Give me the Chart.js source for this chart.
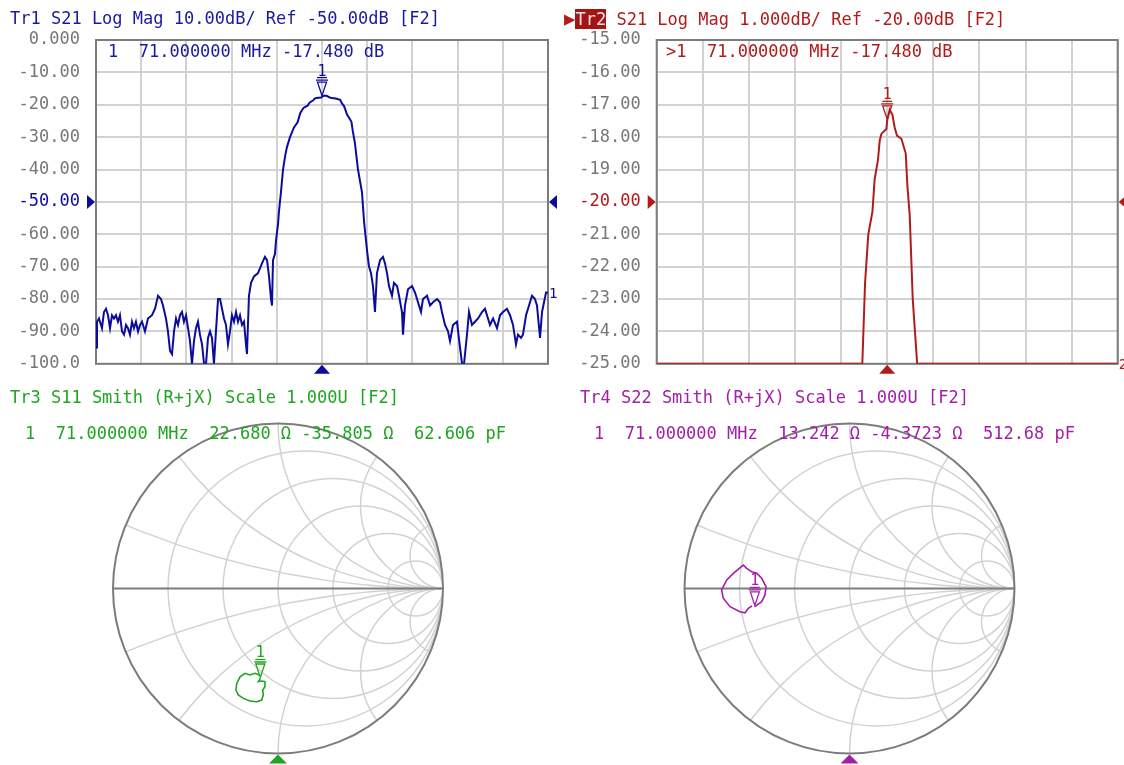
<!DOCTYPE html>
<html>
<head>
<meta charset="utf-8">
<script src="https://cdn.jsdelivr.net/npm/chart.js@4.4.0/dist/chart.umd.min.js"></script>
<style>
  body { margin: 0; background: #fff; width: 1124px; height: 765px; overflow: hidden; position: relative; font-family: "DejaVu Sans Mono", monospace; }
  canvas { position: absolute; }
  .txt { position: absolute; font-size: 17px; line-height: 20px; white-space: pre; }
</style>
</head>
<body>
<canvas id="tr1" width="560" height="390" style="left:0;top:0"></canvas>
<canvas id="tr2" width="564" height="390" style="left:560px;top:0"></canvas>
<canvas id="tr3" width="560" height="380" style="left:0;top:385px"></canvas>
<canvas id="tr4" width="564" height="380" style="left:560px;top:385px"></canvas>

<div class="txt" style="left:10px;top:8px;color:#1a1aa0">Tr1 S21 Log Mag 10.00dB/ Ref -50.00dB [F2]</div>
<div class="txt" style="left:108px;top:41px;color:#1a1aa0">1  71.000000 MHz -17.480 dB</div>
<div class="txt" style="left:564px;top:8px;color:#b01c1c"><span style="font-size:19px">▶</span><span style="background:#a51414;color:#f4e4e4">Tr2</span> S21 Log Mag 1.000dB/ Ref -20.00dB [F2]</div>
<div class="txt" style="left:666px;top:41px;color:#b01c1c">&gt;1  71.000000 MHz -17.480 dB</div>
<div class="txt" style="left:10px;top:387px;color:#1fa51f">Tr3 S11 Smith (R+jX) Scale 1.000U [F2]</div>
<div class="txt" style="left:25px;top:423px;color:#1fa51f">1  71.000000 MHz  22.680 Ω -35.805 Ω  62.606 pF</div>
<div class="txt" style="left:580px;top:387px;color:#a31fa8">Tr4 S22 Smith (R+jX) Scale 1.000U [F2]</div>
<div class="txt" style="left:594px;top:423px;color:#a31fa8">1  71.000000 MHz  13.242 Ω -4.3723 Ω  512.68 pF</div>

<script>
// S21 sweep (MHz / dB)
const s21Freq = [
  46.00, 46.11, 46.33, 46.44, 46.66, 46.88, 47.11, 47.33, 47.55, 47.77,
  47.99, 48.21, 48.43, 48.65, 48.88, 49.10, 49.32, 49.54, 49.76, 49.98,
  50.20, 50.42, 50.65, 50.87, 51.09, 51.42, 51.75, 52.19, 52.53, 52.86,
  53.19, 53.41, 53.74, 53.96, 54.19, 54.41, 54.63, 54.85, 55.07, 55.29,
  55.51, 55.73, 55.96, 56.18, 56.40, 56.62, 56.84, 57.06, 57.28, 57.50,
  57.73, 57.95, 58.17, 58.39, 58.61, 58.83, 59.05, 59.27, 59.50, 59.72,
  59.94, 60.16, 60.38, 60.60, 60.82, 61.04, 61.27, 61.49, 61.71, 61.93,
  62.15, 62.37, 62.59, 62.70, 62.92, 63.15, 63.48, 63.92, 64.36, 64.69,
  64.92, 65.14, 65.36, 65.47, 65.58, 65.80, 65.91, 66.13, 66.24, 66.46,
  66.69, 66.91, 67.13, 67.46, 67.90, 68.30, 68.60, 68.95, 69.40, 69.64,
  70.00, 70.19, 70.37, 70.91, 71.00, 71.27, 71.56, 71.81, 72.06, 72.54,
  73.01, 73.19, 73.44, 73.77, 74.25, 74.40, 74.65, 74.98, 75.42, 75.65,
  75.98, 76.20, 76.42, 76.64, 76.86, 77.08, 77.42, 77.75, 77.97, 78.19,
  78.41, 78.74, 78.96, 79.30, 79.52, 79.85, 79.96, 80.18, 80.51, 80.96,
  81.29, 81.62, 81.95, 82.17, 82.62, 82.95, 83.28, 83.72, 84.05, 84.27,
  84.61, 84.94, 85.16, 85.49, 85.93, 86.27, 86.49, 86.71, 87.04, 87.26,
  87.59, 87.92, 88.26, 88.70, 89.03, 89.25, 89.58, 89.92, 90.36, 90.69,
  91.02, 91.46, 91.80, 92.13, 92.46, 92.68, 93.01, 93.23, 93.57, 93.90,
  94.23, 94.56, 94.78, 95.12, 95.34, 95.56, 95.78, 96.00
];
const s21Mag = [
  -95, -87, -86, -87, -89, -84, -83, -85, -89, -85,
  -86, -85, -87, -85, -90, -91, -88, -89, -91, -87,
  -89, -87, -90, -88, -87, -90, -86, -85, -83, -79,
  -80, -82, -86, -90, -96, -97, -90, -86, -88, -85,
  -84, -87, -85, -89, -93, -100, -93, -89, -87, -91,
  -94, -100, -100, -92, -90, -92, -100, -90, -80, -80,
  -83, -86, -88, -94, -90, -85, -87, -84, -87, -85,
  -88, -87, -94, -97, -79, -75, -73, -72, -69, -67,
  -68, -73, -80, -82, -68, -66, -62, -57, -53, -47,
  -40, -36, -33, -30, -27, -25.4, -22.5, -21.0, -20.3, -19.3,
  -18.7, -18.1, -17.9, -17.75, -17.48, -17.15, -17.3, -17.7, -17.95, -18.05,
  -18.5, -19.5, -20.4, -23, -25.2, -28, -32, -40, -47, -56,
  -65, -70, -72, -76, -84, -72, -68, -67, -69, -72,
  -76, -79, -75, -76, -79, -84, -91, -82, -77, -76,
  -78, -81, -84, -80, -79, -82, -81, -80, -81, -84,
  -88, -90, -93, -88, -87, -95, -100, -100, -91, -84,
  -88, -87, -86, -84, -83, -85, -88, -86, -89, -85,
  -84, -83, -85, -88, -94, -91, -92, -91, -85, -82,
  -79, -80, -82, -92, -84, -81, -78, -78
];

// frequency grid (10 divisions) and marker
const freqGrid = [46, 51, 56, 61, 66, 71, 76, 81, 86, 91, 96];
const markerFreq = 71.0;
const markerMag = -17.48;

// Tr1 / Tr2 vertical scales
const tr1Ticks = [0, -10, -20, -30, -40, -50, -60, -70, -80, -90, -100];
const tr1TickLabels = ['0.000', '-10.00', '-20.00', '-30.00', '-40.00', '-50.00', '-60.00', '-70.00', '-80.00', '-90.00', '-100.0'];
const tr1Ref = -50;
const tr2Ticks = [-15, -16, -17, -18, -19, -20, -21, -22, -23, -24, -25];
const tr2TickLabels = ['-15.00', '-16.00', '-17.00', '-18.00', '-19.00', '-20.00', '-21.00', '-22.00', '-23.00', '-24.00', '-25.00'];
const tr2Ref = -20;

// S11 / S22 reflection loops (real, imag of gamma)
const s11Re = [-0.113, -0.139, -0.170, -0.200, -0.230, -0.250, -0.255, -0.241, -0.210, -0.170, -0.129, -0.099, -0.089, -0.093, -0.079, -0.079, -0.099, -0.119, -0.107];
const s11Im = [-0.524, -0.514, -0.524, -0.514, -0.535, -0.575, -0.615, -0.645, -0.666, -0.682, -0.686, -0.676, -0.645, -0.615, -0.595, -0.565, -0.561, -0.565, -0.545];
const s22Re = [-0.573, -0.532, -0.512, -0.506, -0.532, -0.562, -0.593, -0.623, -0.644, -0.704, -0.744, -0.775, -0.765, -0.724, -0.664, -0.633, -0.613, -0.590];
const s22Im = [-0.110, -0.080, -0.039, 0.011, 0.062, 0.092, 0.102, 0.122, 0.142, 0.092, 0.052, -0.009, -0.059, -0.110, -0.141, -0.147, -0.120, -0.105];

// marker impedances (ohm), Z0 = 50
const s11Marker = [22.680, -35.805];
const s22Marker = [13.242, -4.3723];

// smith grid values
const resistanceCircles = [0.2, 0.5, 1, 2, 5];
const reactanceArcs = [0.2, 0.5, 1, 2, 5];

const tr1Color = '#0c0c9c';
const tr2Color = '#b01c1c';
const tr3Color = '#1fa51f';
const tr4Color = '#a31fa8';
const gridColor = '#d2d2d2';
const frameColor = '#7c7c7c';

function gammaOf(r, x) {
  const zr = r / 50, zx = x / 50;
  const nr = zr - 1, dr = zr + 1;
  const den = dr * dr + zx * zx;
  return [(nr * dr + zx * zx) / den, (zx * dr - nr * zx) / den];
}

function tri(ctx, pts, color) {
  ctx.fillStyle = color;
  ctx.beginPath();
  ctx.moveTo(pts[0], pts[1]);
  ctx.lineTo(pts[2], pts[3]);
  ctx.lineTo(pts[4], pts[5]);
  ctx.closePath();
  ctx.fill();
}

function drawMarker(ctx, px, py, color) {
  ctx.save();
  ctx.strokeStyle = color;
  ctx.fillStyle = color;
  ctx.lineWidth = 1.3;
  ctx.beginPath();
  ctx.moveTo(px - 6, py - 16.5); ctx.lineTo(px + 6, py - 16.5);
  ctx.moveTo(px - 4.5, py - 14.5); ctx.lineTo(px + 4.5, py - 14.5); ctx.lineTo(px, py - 1); ctx.closePath();
  ctx.stroke();
  ctx.font = '15px "DejaVu Sans Mono"';
  ctx.textAlign = 'center';
  ctx.fillText('1', px, py - 21);
  ctx.beginPath();
  ctx.moveTo(px - 5, py - 19); ctx.lineTo(px + 5, py - 19);
  ctx.stroke();
  ctx.restore();
}

// frame under the trace; reference arrows, marker and stimulus triangle on top
const vnaFrame = {
  id: 'vnaFrame',
  beforeDatasetsDraw(chart) {
    const {ctx, chartArea: a} = chart;
    ctx.save();
    ctx.strokeStyle = frameColor;
    ctx.lineWidth = 2;
    ctx.strokeRect(a.left, a.top, a.right - a.left, a.bottom - a.top);
    ctx.restore();
  },
  afterDraw(chart, args, o) {
    const {ctx, chartArea: a, scales: {x, y}} = chart;
    ctx.save();
    const ry = y.getPixelForValue(o.ref);
    tri(ctx, [a.left - 9, ry - 7, a.left - 9, ry + 7, a.left - 1, ry], o.color);
    tri(ctx, [a.right + 9, ry - 7, a.right + 9, ry + 7, a.right + 1, ry], o.color);
    const mx = x.getPixelForValue(markerFreq);
    tri(ctx, [mx - 8, a.bottom + 10, mx + 8, a.bottom + 10, mx, a.bottom + 1], o.color);
    const my = y.getPixelForValue(Math.max(y.min, Math.min(y.max, markerMag)));
    drawMarker(ctx, mx, my, o.color);
    const pts = chart.data.datasets[0].data;
    ctx.fillStyle = o.color;
    ctx.font = '14px "DejaVu Sans Mono"';
    ctx.textBaseline = 'middle';
    ctx.fillText(o.label, a.right + 1, y.getPixelForValue(pts[pts.length - 1].y) + 2);
    ctx.restore();
  }
};

function rectChart(id, color, lo, hi, ticks, labels, ref, label, leftW, rightPad) {
  return new Chart(document.getElementById(id), {
    type: 'line',
    data: {
      datasets: [{
        data: s21Freq.map((f, i) => ({x: f, y: Math.max(lo, Math.min(hi, s21Mag[i]))})),
        borderColor: color,
        borderWidth: 2,
        pointRadius: 0,
        tension: 0
      }]
    },
    options: {
      responsive: false,
      animation: false,
      events: [],
      layout: {padding: {left: 0, top: 40, right: rightPad, bottom: 18.3}},
      plugins: {
        legend: {display: false},
        tooltip: {enabled: false},
        vnaFrame: {ref: ref, color: color, label: label}
      },
      scales: {
        x: {
          type: 'linear', min: 46, max: 96,
          afterBuildTicks: s => { s.ticks = freqGrid.map(v => ({value: v})); },
          afterFit: s => { s.height = 0; },
          ticks: {display: false},
          grid: {color: gridColor, lineWidth: 2, drawTicks: false},
          border: {display: false}
        },
        y: {
          type: 'linear', min: lo, max: hi,
          afterBuildTicks: s => { s.ticks = ticks.map(v => ({value: v})); },
          afterFit: s => { s.width = leftW; },
          ticks: {
            padding: 16,
            font: {family: 'DejaVu Sans Mono', size: 17},
            color: c => c.tick && c.tick.value === ref ? color : '#777777',
            callback: v => labels[ticks.indexOf(v)]
          },
          grid: {color: gridColor, lineWidth: 2, drawTicks: false},
          border: {display: false}
        }
      }
    },
    plugins: [vnaFrame]
  });
}

rectChart('tr1', tr1Color, -100, 0, tr1Ticks, tr1TickLabels, tr1Ref, '1', 96, 12);
rectChart('tr2', tr2Color, -25, -15, tr2Ticks, tr2TickLabels, tr2Ref, '2', 96.7, 6.3);

// smith chart grid drawn through the chart scales
const smithGrid = {
  id: 'smithGrid',
  beforeDatasetsDraw(chart) {
    const {ctx, scales: {x, y}} = chart;
    const cx = x.getPixelForValue(0), cy = y.getPixelForValue(0);
    const R = x.getPixelForValue(1) - cx;
    ctx.save();
    ctx.beginPath();
    ctx.arc(cx, cy, R, 0, Math.PI * 2);
    ctx.clip();
    ctx.strokeStyle = gridColor;
    ctx.lineWidth = 1.5;
    resistanceCircles.forEach(r => {
      ctx.beginPath();
      ctx.arc(x.getPixelForValue(r / (1 + r)), cy, R / (1 + r), 0, Math.PI * 2);
      ctx.stroke();
    });
    reactanceArcs.forEach(v => {
      [v, -v].forEach(s => {
        ctx.beginPath();
        ctx.arc(x.getPixelForValue(1), y.getPixelForValue(1 / s), R / v, 0, Math.PI * 2);
        ctx.stroke();
      });
    });
    ctx.restore();
    ctx.save();
    ctx.strokeStyle = frameColor;
    ctx.lineWidth = 2;
    ctx.beginPath();
    ctx.arc(cx, cy, R, 0, Math.PI * 2);
    ctx.stroke();
    ctx.beginPath();
    ctx.moveTo(cx - R, cy);
    ctx.lineTo(cx + R, cy);
    ctx.stroke();
    ctx.restore();
  },
  afterDraw(chart, args, o) {
    const {ctx, scales: {x, y}} = chart;
    const g = gammaOf(o.marker[0], o.marker[1]);
    drawMarker(ctx, x.getPixelForValue(g[0]), y.getPixelForValue(g[1]), o.color);
    const bx = x.getPixelForValue(0), by = y.getPixelForValue(-1);
    ctx.save();
    tri(ctx, [bx - 9, by + 10, bx + 9, by + 10, bx, by + 1], o.color);
    ctx.restore();
  }
};

function smithChart(id, color, re, im, marker, padL, padR) {
  return new Chart(document.getElementById(id), {
    type: 'scatter',
    data: {
      datasets: [{
        data: re.map((v, i) => ({x: v, y: im[i]})),
        showLine: true,
        borderColor: color,
        borderWidth: 1.6,
        pointRadius: 0
      }]
    },
    options: {
      responsive: false,
      animation: false,
      events: [],
      layout: {padding: {left: padL, right: padR, top: 38.5, bottom: 11.5}},
      plugins: {
        legend: {display: false},
        tooltip: {enabled: false},
        smithGrid: {color: color, marker: marker}
      },
      scales: {
        x: {type: 'linear', min: -1, max: 1, display: false},
        y: {type: 'linear', min: -1, max: 1, display: false}
      }
    },
    plugins: [smithGrid]
  });
}

smithChart('tr3', tr3Color, s11Re, s11Im, s11Marker, 113, 117);
smithChart('tr4', tr4Color, s22Re, s22Im, s22Marker, 124.5, 109.5);
</script>
</body>
</html>
